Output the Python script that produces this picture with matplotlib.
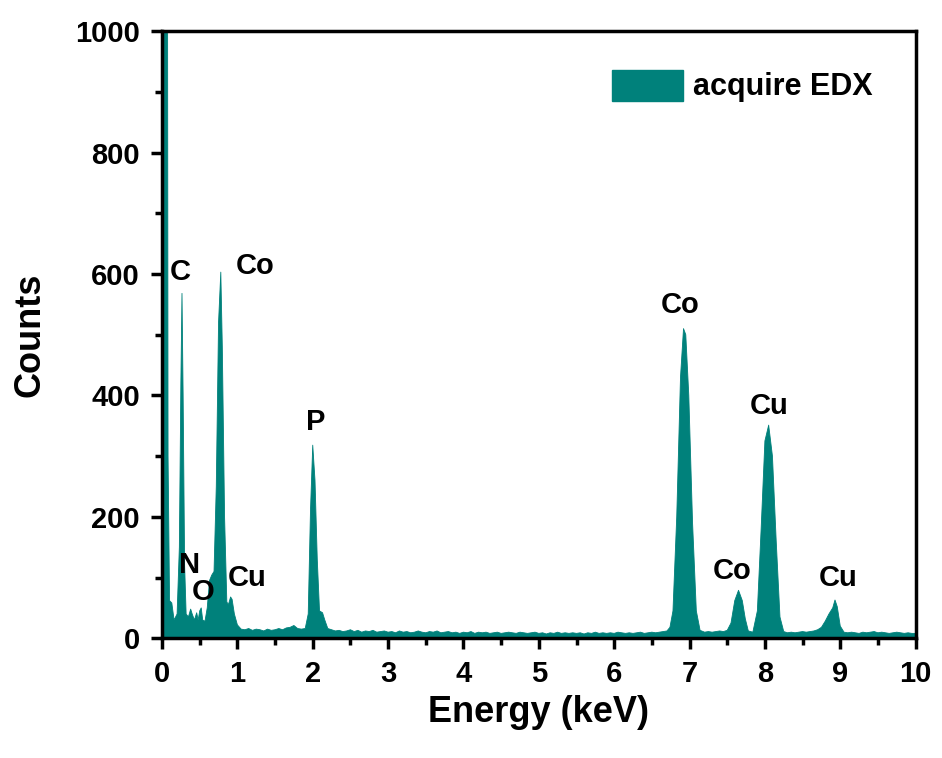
import matplotlib
matplotlib.use('Agg')
import matplotlib.pyplot as plt
from matplotlib.patches import Patch
from matplotlib.ticker import MultipleLocator

# ── Spectrum (keV, counts) ────────────────────────────────────────────────────
energy = [
    0.00, 0.005, 0.07, 0.08, 0.10, 0.13, 0.16, 0.20, 0.23, 0.25, 0.265, 0.28,
    0.30, 0.32, 0.35, 0.38, 0.40, 0.43, 0.46, 0.48, 0.50, 0.52, 0.54, 0.57,
    0.60, 0.63, 0.66, 0.69, 0.72, 0.75, 0.78, 0.80, 0.83, 0.86, 0.88, 0.91,
    0.93, 0.96, 1.00, 1.05, 1.10, 1.15, 1.20, 1.25, 1.30, 1.35, 1.40, 1.45,
    1.50, 1.55, 1.60, 1.65, 1.70, 1.75, 1.80, 1.85, 1.90, 1.94, 1.97, 2.00,
    2.03, 2.06, 2.09, 2.13, 2.16, 2.20, 2.25, 2.30, 2.35, 2.40, 2.45, 2.50,
    2.55, 2.60, 2.65, 2.70, 2.75, 2.80, 2.85, 2.90, 2.95, 3.00, 3.05, 3.10,
    3.15, 3.20, 3.25, 3.30, 3.35, 3.40, 3.45, 3.50, 3.55, 3.60, 3.65, 3.70,
    3.75, 3.80, 3.85, 3.90, 3.95, 4.00, 4.05, 4.10, 4.15, 4.20, 4.25, 4.30,
    4.35, 4.40, 4.45, 4.50, 4.55, 4.60, 4.65, 4.70, 4.75, 4.80, 4.85, 4.90,
    4.95, 5.00, 5.05, 5.10, 5.15, 5.20, 5.25, 5.30, 5.35, 5.40, 5.45, 5.50,
    5.55, 5.60, 5.65, 5.70, 5.75, 5.80, 5.85, 5.90, 5.95, 6.00, 6.05, 6.10,
    6.15, 6.20, 6.25, 6.30, 6.35, 6.40, 6.45, 6.50, 6.55, 6.60, 6.65, 6.70,
    6.74, 6.78, 6.83, 6.88, 6.92, 6.95, 6.99, 7.04, 7.09, 7.14, 7.20, 7.25,
    7.30, 7.35, 7.40, 7.45, 7.50, 7.55, 7.60, 7.65, 7.70, 7.74, 7.78, 7.84,
    7.90, 7.95, 8.00, 8.05, 8.10, 8.15, 8.20, 8.25, 8.30, 8.35, 8.40, 8.45,
    8.50, 8.55, 8.60, 8.65, 8.70, 8.75, 8.80, 8.85, 8.90, 8.93, 8.96, 9.00,
    9.05, 9.10, 9.15, 9.20, 9.25, 9.30, 9.35, 9.40, 9.45, 9.50, 9.55, 9.60,
    9.65, 9.70, 9.75, 9.80, 9.85, 9.90, 9.95, 10.00,
]
counts = [
    1500, 1500, 1500, 300, 62, 58, 30, 40, 150, 420, 568, 400,
    120, 40, 35, 48, 40, 30, 42, 30, 45, 50, 30, 28,
    50, 95, 104, 110, 250, 520, 603, 480, 200, 60, 55, 68,
    64, 40, 22, 15, 14, 16, 13, 15, 14, 12, 15, 13,
    14, 16, 14, 17, 18, 21, 16, 15, 16, 40, 210, 318,
    260, 130, 45, 42, 30, 16, 14, 12, 13, 11, 12, 14,
    11, 13, 10, 12, 11, 13, 10, 11, 12, 10, 11, 9,
    12, 10, 11, 9, 10, 12, 10, 9, 11, 10, 12, 9,
    10, 11, 9, 10, 8, 10, 9, 11, 8, 10, 9, 10,
    8, 9, 10, 8, 9, 10, 9, 8, 10, 9, 8, 9,
    10, 8, 9, 7, 9, 8, 10, 8, 9, 8, 9, 8,
    9, 7, 9, 8, 10, 8, 9, 8, 9, 8, 10, 9,
    8, 9, 8, 9, 10, 8, 9, 10, 9, 10, 11, 12,
    18, 45, 200, 430, 510, 500, 400, 190, 45, 13, 10, 11,
    10, 11, 12, 11, 13, 25, 62, 79, 62, 32, 12, 10,
    45, 180, 325, 351, 300, 160, 35, 11, 9, 10, 9, 10,
    11, 10, 11, 12, 14, 18, 28, 40, 50, 63, 52, 20,
    10, 9, 10, 9, 8, 10, 9, 10, 11, 9, 10, 9,
    8, 9, 10, 9, 8, 9, 8, 8,
]

# peak labels: (text, energy, counts)
peak_text = ['C', 'Co', 'N', 'O', 'Cu', 'P', 'Co', 'Co', 'Cu', 'Cu']
peak_x = [0.24, 1.23, 0.36, 0.54, 1.13, 2.04, 6.88, 7.57, 8.06, 8.97]
peak_y = [603, 613, 120, 76, 100, 356, 549, 110, 382, 99]

TEAL = '#00817B'
plt.rcParams['font.family'] = ['Liberation Sans', 'DejaVu Sans']
plt.rcParams['font.weight'] = 'bold'

fig = plt.figure(figsize=(9.42, 7.58), dpi=100)
ax = fig.add_axes([0.172, 0.158, 0.800, 0.801])

ax.fill_between(energy, 0, counts, color=TEAL, linewidth=0.6, edgecolor=TEAL)

for t, x, y in zip(peak_text, peak_x, peak_y):
    ax.text(x, y, t, fontsize=21, fontweight='bold', ha='center', va='center')

ax.set_xlim(0, 10)
ax.set_ylim(0, 1000)
ax.xaxis.set_major_locator(MultipleLocator(1))
ax.xaxis.set_minor_locator(MultipleLocator(0.5))
ax.yaxis.set_major_locator(MultipleLocator(200))
ax.yaxis.set_minor_locator(MultipleLocator(100))
ax.tick_params(which='major', direction='out', length=8, width=2.5,
               labelsize=21, pad=8)
ax.tick_params(which='minor', direction='out', length=5, width=2.5)
for lbl in ax.get_xticklabels() + ax.get_yticklabels():
    lbl.set_fontweight('bold')
for sp in ax.spines.values():
    sp.set_linewidth(2.5)

ax.set_xlabel('Energy (keV)', fontsize=26, fontweight='bold', labelpad=5)
ax.set_ylabel('Counts', fontsize=26, fontweight='bold', labelpad=20)

ax.legend(handles=[Patch(facecolor=TEAL, edgecolor=TEAL, label='acquire EDX')],
          loc='upper right', frameon=False, fontsize=22,
          handlelength=2.3, handleheight=1.2, handletextpad=0.35,
          bbox_to_anchor=(0.98, 0.982))

fig.savefig('out.png', dpi=100)
